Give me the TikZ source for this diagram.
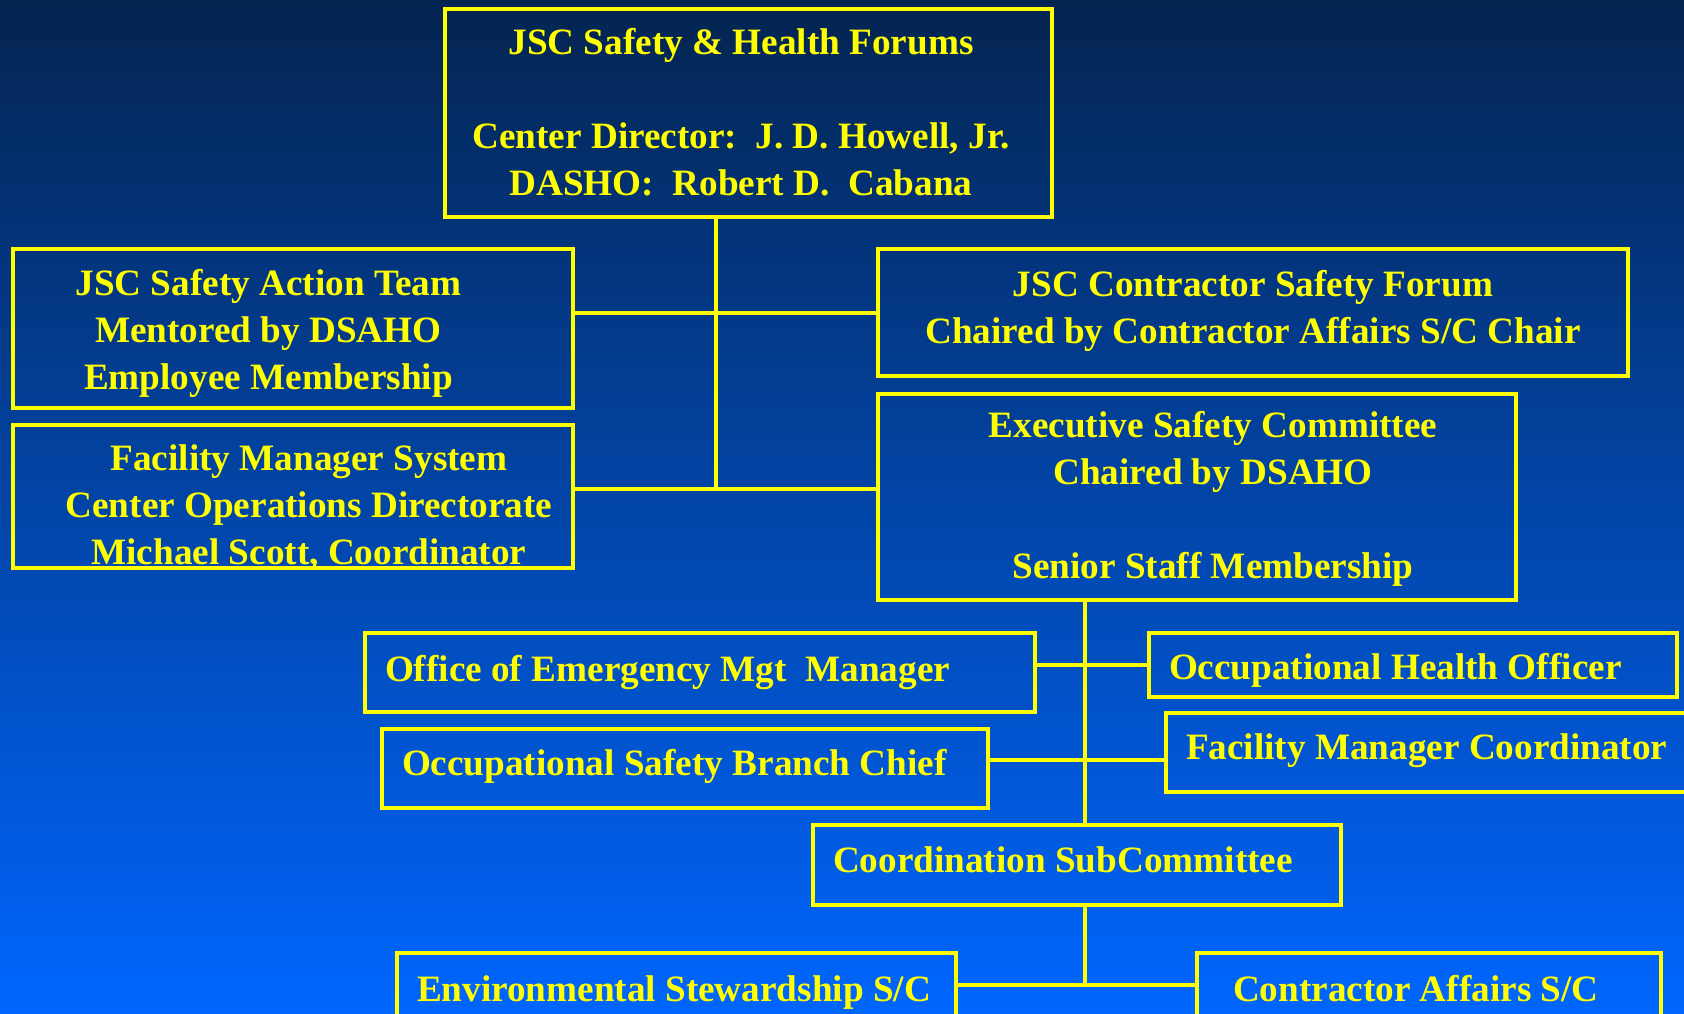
\documentclass[tikz,border=0pt]{standalone}
\usepackage{fontspec}
\setmainfont{Liberation Serif}
\definecolor{navytop}{RGB}{4,36,80}
\definecolor{bluemid}{RGB}{3,80,190}
\definecolor{bluebot}{RGB}{0,102,255}
\definecolor{chartyellow}{RGB}{255,255,0}
\newcommand{\boxlines}[1]{\begin{tabular}{@{}c@{}}#1\end{tabular}}
\newcommand{\nudge}[2]{\raisebox{#1}[\height][\depth]{#2}}
\tikzset{
  orgbox/.style={draw=chartyellow, line width=4pt, text=chartyellow,
    font=\fontsize{37.2}{47}\selectfont\bfseries, inner sep=0pt},
  leftbox/.style={orgbox, inner xsep=20pt},
  link/.style={draw=chartyellow, line width=4pt}
}
\begin{document}
\begin{tikzpicture}[x=1pt,y=-1pt]
  \useasboundingbox (0,0) rectangle (1684,1014);
  \clip (0,0) rectangle (1684,1014);
  \shade[top color=navytop, middle color=bluemid, bottom color=bluebot]
    (0,0) rectangle (1684,1014);

  % Foros y comites superiores
  \node[orgbox, minimum width=607pt, minimum height=208pt] (forums) at (748.5,113)
    {\hspace*{-15pt}\nudge{-3pt}{\boxlines{JSC Safety \& Health Forums\\[47pt]Center Director:~~J. D. Howell, Jr.\\DASHO:~~Robert D.~~Cabana}}};
  \node[orgbox, minimum width=560pt, minimum height=159pt] (sat) at (293,328.5)
    {\hspace*{-49pt}\nudge{-5pt}{\boxlines{JSC Safety Action Team\\Mentored by DSAHO\\Employee Membership}}};
  \node[orgbox, minimum width=560pt, minimum height=143pt] (fms) at (293,496.5)
    {\hspace*{32pt}\nudge{-12pt}{\boxlines{Facility Manager System\\Center Operations Directorate\\Michael Scott, Coordinator}}};
  \node[orgbox, minimum width=750pt, minimum height=127pt] (csf) at (1253,312.5)
    {\nudge{2pt}{\boxlines{JSC Contractor Safety Forum\\Chaired by Contractor Affairs S/C Chair}}};
  \node[orgbox, minimum width=638pt, minimum height=206pt] (esc) at (1197,497)
    {\hspace*{32pt}\nudge{-2pt}{\boxlines{Executive Safety Committee\\Chaired by DSAHO\\[47pt]Senior Staff Membership}}};

  % Miembros del comite ejecutivo
  \node[leftbox, minimum height=79pt] (oem) at (700,672.5)
    {\makebox[630pt][l]{Office of Emergency Mgt~~Manager}};
  \node[leftbox, minimum height=64pt] (oho) at (1413,665)
    {\makebox[488pt][l]{\nudge{-5pt}{Occupational Health Officer}}};
  \node[leftbox, minimum height=79pt] (osb) at (685,768.5)
    {\makebox[566pt][l]{\nudge{2pt}{Occupational Safety Branch Chief}}};
  \node[leftbox, minimum height=79pt] (fmc) at (1436,752.5)
    {\makebox[500pt][l]{\nudge{2pt}{Facility Manager Coordinator}}};
  \node[leftbox, minimum height=80pt] (csc) at (1077,865)
    {\makebox[488pt][l]{\nudge{5pt}{Coordination SubCommittee}}};

  % Subcomites
  \node[leftbox, minimum height=80pt] (ess) at (676.5,993)
    {\makebox[519pt][l]{Environmental Stewardship S/C}};
  \node[leftbox, minimum height=80pt] (cas) at (1429,993)
    {\makebox[424pt][l]{\hspace*{16pt}\nudge{4pt}{Contractor Affairs S/C}}};

  % Puntos de union
  \coordinate (j1) at (716,313);
  \coordinate (j2) at (716,489);
  \coordinate (k1) at (1085,665);
  \coordinate (k2) at (1085,760);
  \coordinate (k3) at (1085,985);

  % Conexiones
  \draw[link] (forums.south -| j1) -- (j2);
  \draw[link] (sat.east |- j1) -- (csf.west |- j1);
  \draw[link] (fms.east |- j2) -- (esc.west |- j2);
  \draw[link] (esc.south -| k1) -- (csc.north -| k1);
  \draw[link] (csc.south -| k3) -- (k3);
  \draw[link] (oem.east |- k1) -- (oho.west |- k1);
  \draw[link] (osb.east |- k2) -- (fmc.west |- k2);
  \draw[link] (ess.east |- k3) -- (cas.west |- k3);
\end{tikzpicture}
\end{document}
